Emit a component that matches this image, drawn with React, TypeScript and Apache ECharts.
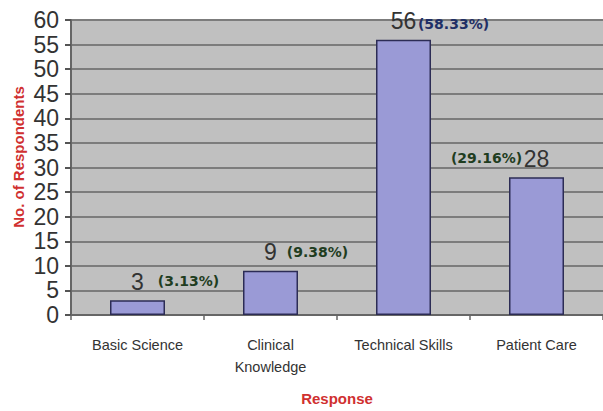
import React, { useEffect, useRef } from "react";
import * as echarts from "echarts";

const categories = ["Basic Science", "Clinical\nKnowledge", "Technical Skills", "Patient Care"];
const counts = [3, 9, 56, 28];
const percents = [3.13, 9.38, 58.33, 29.16];
const percentOffsetX = [51, 47, 50, -50];
const percentOffsetY = [-5, -5, -2, -5];
const percentColors = ["#1f3d1f", "#1f3d1f", "#1f2f66", "#1f3d1f"];
const yTicks = { min: 0, max: 60, interval: 5 };

const narrow = "'Liberation Sans Narrow', 'Liberation Sans', Arial, sans-serif";
const sans = "'Liberation Sans', Arial, sans-serif";

export default function App() {
  const ref = useRef<HTMLDivElement>(null);
  useEffect(() => {
    if (!ref.current) return;
    const chart = echarts.init(ref.current, null, { renderer: "svg" });
    chart.setOption({
      animation: false,
      backgroundColor: "#ffffff",
      grid: {
        left: 71,
        top: 20,
        width: 541,
        height: 302,
        show: true,
        backgroundColor: "#c0c0c0",
        borderWidth: 0,
      },
      xAxis: {
        type: "category",
        data: categories,
        axisLine: { show: true, lineStyle: { color: "#666666", width: 2 } },
        axisTick: { show: true, length: 5, lineStyle: { color: "#666666", width: 1.5 } },
        axisLabel: {
          margin: 19,
          color: "#333333",
          fontSize: 14.5,
          fontFamily: sans,
          lineHeight: 22,
          verticalAlign: "top",
          interval: 0,
        },
        name: "Response",
        nameLocation: "middle",
        nameGap: 76,
        nameTextStyle: { color: "#d03030", fontSize: 15, fontWeight: "bold", fontFamily: sans },
      },
      yAxis: {
        type: "value",
        min: yTicks.min,
        max: yTicks.max,
        interval: yTicks.interval,
        axisLine: { show: true, lineStyle: { color: "#666666", width: 2 } },
        axisTick: { show: true, length: 6, lineStyle: { color: "#555555", width: 2 } },
        axisLabel: { margin: 12, color: "#333333", fontSize: 23, fontFamily: narrow },
        splitLine: { show: true, lineStyle: { color: "#7c7c7c", width: 2 } },
      },
      graphic: [
        {
          type: "text",
          x: 18.5,
          y: 157,
          rotation: Math.PI / 2,
          style: {
            text: "No. of Respondents",
            fill: "#d03030",
            fontSize: 15,
            fontWeight: "bold",
            fontFamily: sans,
            align: "center",
            verticalAlign: "middle",
          },
        },
      ],
      series: [
        {
          type: "bar",
          data: counts,
          barWidth: 55,
          itemStyle: { color: "#9a9ad6", borderColor: "#2c2c55", borderWidth: 1.5 },
          label: {
            show: true,
            position: "top",
            distance: 7,
            color: "#333333",
            fontSize: 23,
            fontFamily: narrow,
          },
        },
        {
          type: "bar",
          data: counts.map((c, i) => ({
            value: c,
            label: {
              offset: [percentOffsetX[i], percentOffsetY[i]],
              color: percentColors[i],
            },
          })),
          barWidth: 55,
          barGap: "-100%",
          silent: true,
          itemStyle: { color: "rgba(0,0,0,0)", borderWidth: 0 },
          label: {
            show: true,
            position: "top",
            distance: 7,
            fontSize: 14,
            fontWeight: "bold",
            fontFamily: "'DejaVu Sans', Verdana, sans-serif",
            formatter: (p: any) => "(" + percents[p.dataIndex].toFixed(2) + "%)",
          },
        },
      ],
    });
    return () => chart.dispose();
  }, []);
  return (
    <div
      ref={ref}
      style={{ position: "absolute", left: 0, top: 0, width: 603, height: 411 }}
    />
  );
}
